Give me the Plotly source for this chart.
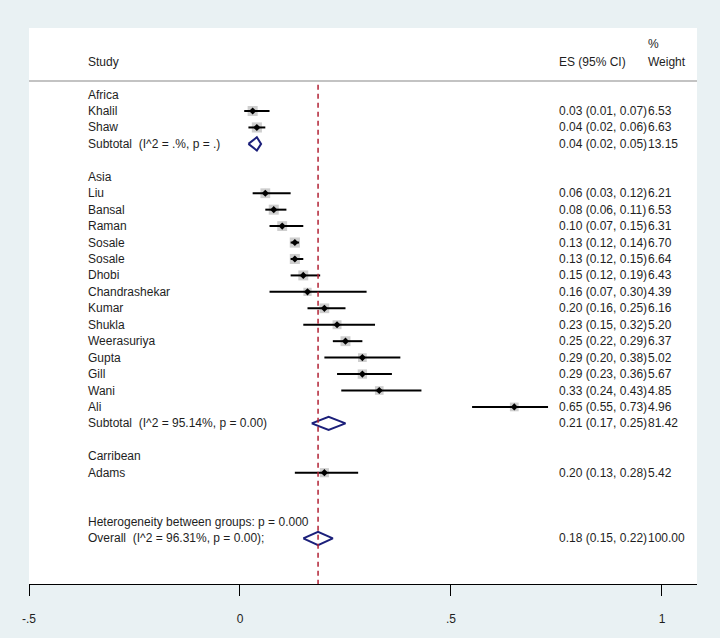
import plotly.graph_objects as go

# ---- data ----
groups = ["Africa", "Asia", "Carribean"]

africa_names = ["Khalil", "Shaw"]
africa_es = [0.03, 0.04]
africa_lo = [0.01, 0.02]
africa_hi = [0.07, 0.06]
africa_w = [6.53, 6.63]

asia_names = ["Liu", "Bansal", "Raman", "Sosale", "Sosale", "Dhobi", "Chandrashekar",
              "Kumar", "Shukla", "Weerasuriya", "Gupta", "Gill", "Wani", "Ali"]
asia_es = [0.06, 0.08, 0.10, 0.13, 0.13, 0.15, 0.16, 0.20, 0.23, 0.25, 0.29, 0.29, 0.33, 0.65]
asia_lo = [0.03, 0.06, 0.07, 0.12, 0.12, 0.12, 0.07, 0.16, 0.15, 0.22, 0.20, 0.23, 0.24, 0.55]
asia_hi = [0.12, 0.11, 0.15, 0.14, 0.15, 0.19, 0.30, 0.25, 0.32, 0.29, 0.38, 0.36, 0.43, 0.73]
asia_w = [6.21, 6.53, 6.31, 6.70, 6.64, 6.43, 4.39, 6.16, 5.20, 6.37, 5.02, 5.67, 4.85, 4.96]

carib_names = ["Adams"]
carib_es = [0.20]
carib_lo = [0.13]
carib_hi = [0.28]
carib_w = [5.42]

subtotal_labels = ["Subtotal  (I^2 = .%, p = .)", "Subtotal  (I^2 = 95.14%, p = 0.00)"]
subtotal_es = [0.04, 0.21]
subtotal_lo = [0.02, 0.17]
subtotal_hi = [0.05, 0.25]
subtotal_w = [13.15, 81.42]

heterogeneity_label = "Heterogeneity between groups: p = 0.000"
overall_label = "Overall  (I^2 = 96.31%, p = 0.00);"
overall_es = 0.185
overall_lo = 0.15
overall_hi = 0.22
overall_w = 100.00

tick_vals = [-0.5, 0, 0.5, 1]
tick_text = ["-.5", "0", ".5", "1"]

# ---- build rows ----
rows = []  # (kind, label, es, lo, hi, w)
rows.append(("group", groups[0], None, None, None, None))
for n, e, l, h, w in zip(africa_names, africa_es, africa_lo, africa_hi, africa_w):
    rows.append(("study", n, e, l, h, w))
rows.append(("sub", subtotal_labels[0], subtotal_es[0], subtotal_lo[0], subtotal_hi[0], subtotal_w[0]))
rows.append(("blank", "", None, None, None, None))
rows.append(("group", groups[1], None, None, None, None))
for n, e, l, h, w in zip(asia_names, asia_es, asia_lo, asia_hi, asia_w):
    rows.append(("study", n, e, l, h, w))
rows.append(("sub", subtotal_labels[1], subtotal_es[1], subtotal_lo[1], subtotal_hi[1], subtotal_w[1]))
rows.append(("blank", "", None, None, None, None))
rows.append(("group", groups[2], None, None, None, None))
for n, e, l, h, w in zip(carib_names, carib_es, carib_lo, carib_hi, carib_w):
    rows.append(("study", n, e, l, h, w))
rows.append(("blank", "", None, None, None, None))
rows.append(("blank", "", None, None, None, None))
rows.append(("group", heterogeneity_label, None, None, None, None))
rows.append(("sub", overall_label, overall_es, overall_lo, overall_hi, overall_w))

FONT = "Liberation Sans, Arial, sans-serif"
TXT = "#1e1e1e"
NAVY = "#1b1f7a"
BG = "rgb(233,241,243)"

X_LABEL = -0.366
X_ES = 0.751
X_W = 0.961

fig = go.Figure()

ci_x, ci_y = [], []
sq_x, sq_y, sq_s = [], [], []
dm_x, dm_y = [], []
dia_x, dia_y = [], []
annotations = []
H = 0.40

for i, (kind, label, e, l, h, w) in enumerate(rows):
    if label:
        annotations.append(dict(x=X_LABEL, y=i, xref="x", yref="y", text=label.replace("  ", " \u00a0"),
                                showarrow=False, xanchor="left", yanchor="middle",
                                font=dict(family=FONT, size=12, color=TXT)))
    if kind == "study":
        ci_x += [l, h, None]
        ci_y += [i, i, None]
        sq_x.append(e); sq_y.append(i); sq_s.append(10.0 * (w / 6.5) ** 0.5)
        dm_x.append(e); dm_y.append(i)
    if kind == "sub":
        dia_x += [l, e, h, e, l, None]
        dia_y += [i, i - H, i, i + H, i, None]
    if e is not None:
        annotations.append(dict(x=X_ES, y=i, xref="x", yref="y",
                                text=f"{e:.2f} ({l:.2f}, {h:.2f})",
                                showarrow=False, xanchor="left", yanchor="middle",
                                font=dict(family=FONT, size=12, color=TXT)))
        annotations.append(dict(x=X_W, y=i, xref="x", yref="y", text=f"{w:.2f}",
                                showarrow=False, xanchor="left", yanchor="middle",
                                font=dict(family=FONT, size=12, color=TXT)))

# headers
for x, y, t in [(X_LABEL, -2, "Study"), (X_ES, -2, "ES (95% CI)"), (X_W, -2, "Weight"), (X_W, -3.08, "%")]:
    annotations.append(dict(x=x, y=y, xref="x", yref="y", text=t, showarrow=False,
                            xanchor="left", yanchor="middle", font=dict(family=FONT, size=12, color=TXT)))

fig.add_trace(go.Scatter(x=sq_x, y=sq_y, mode="markers",
                         marker=dict(symbol="square", size=sq_s, color="rgb(185,185,185)", line=dict(width=0)),
                         hoverinfo="skip"))
fig.add_trace(go.Scatter(x=ci_x, y=ci_y, mode="lines", line=dict(color="black", width=2), hoverinfo="skip"))
fig.add_trace(go.Scatter(x=dm_x, y=dm_y, mode="markers",
                         marker=dict(symbol="diamond", size=5.5, color="black", line=dict(width=0)),
                         hoverinfo="skip"))
fig.add_trace(go.Scatter(x=dia_x, y=dia_y, mode="lines", line=dict(color=NAVY, width=2), hoverinfo="skip"))

shapes = [
    dict(type="line", xref="paper", yref="y", x0=0, x1=1, y0=-0.83, y1=-0.83,
         line=dict(color="rgb(175,175,175)", width=1.5)),
    dict(type="line", xref="x", yref="y", x0=overall_es, x1=overall_es, y0=-0.6, y1=29.77,
         line=dict(color="rgb(178,34,52)", width=1.5, dash="5px,4px")),
]

fig.update_layout(
    width=720, height=638,
    margin=dict(l=29, r=23, t=28, b=46),
    paper_bgcolor=BG,
    plot_bgcolor="white",
    showlegend=False,
    annotations=annotations,
    shapes=shapes,
    xaxis=dict(range=[-0.5, 1.083], tickvals=tick_vals, ticktext=tick_text,
               showgrid=False, zeroline=False, showline=True, linecolor="black", linewidth=1,
               ticks="outside", ticklen=11, tickwidth=1, tickcolor="black",
               ticklabelstandoff=13,
               tickfont=dict(family=FONT, size=12, color=TXT)),
    yaxis=dict(range=[29.77, -4.05], visible=False, showgrid=False, zeroline=False),
)

fig.write_html("out.html", config={"displayModeBar": False},
               post_script="document.body.style.margin='0';document.body.style.padding='0';"
                           "document.body.style.background='" + BG + "';")
